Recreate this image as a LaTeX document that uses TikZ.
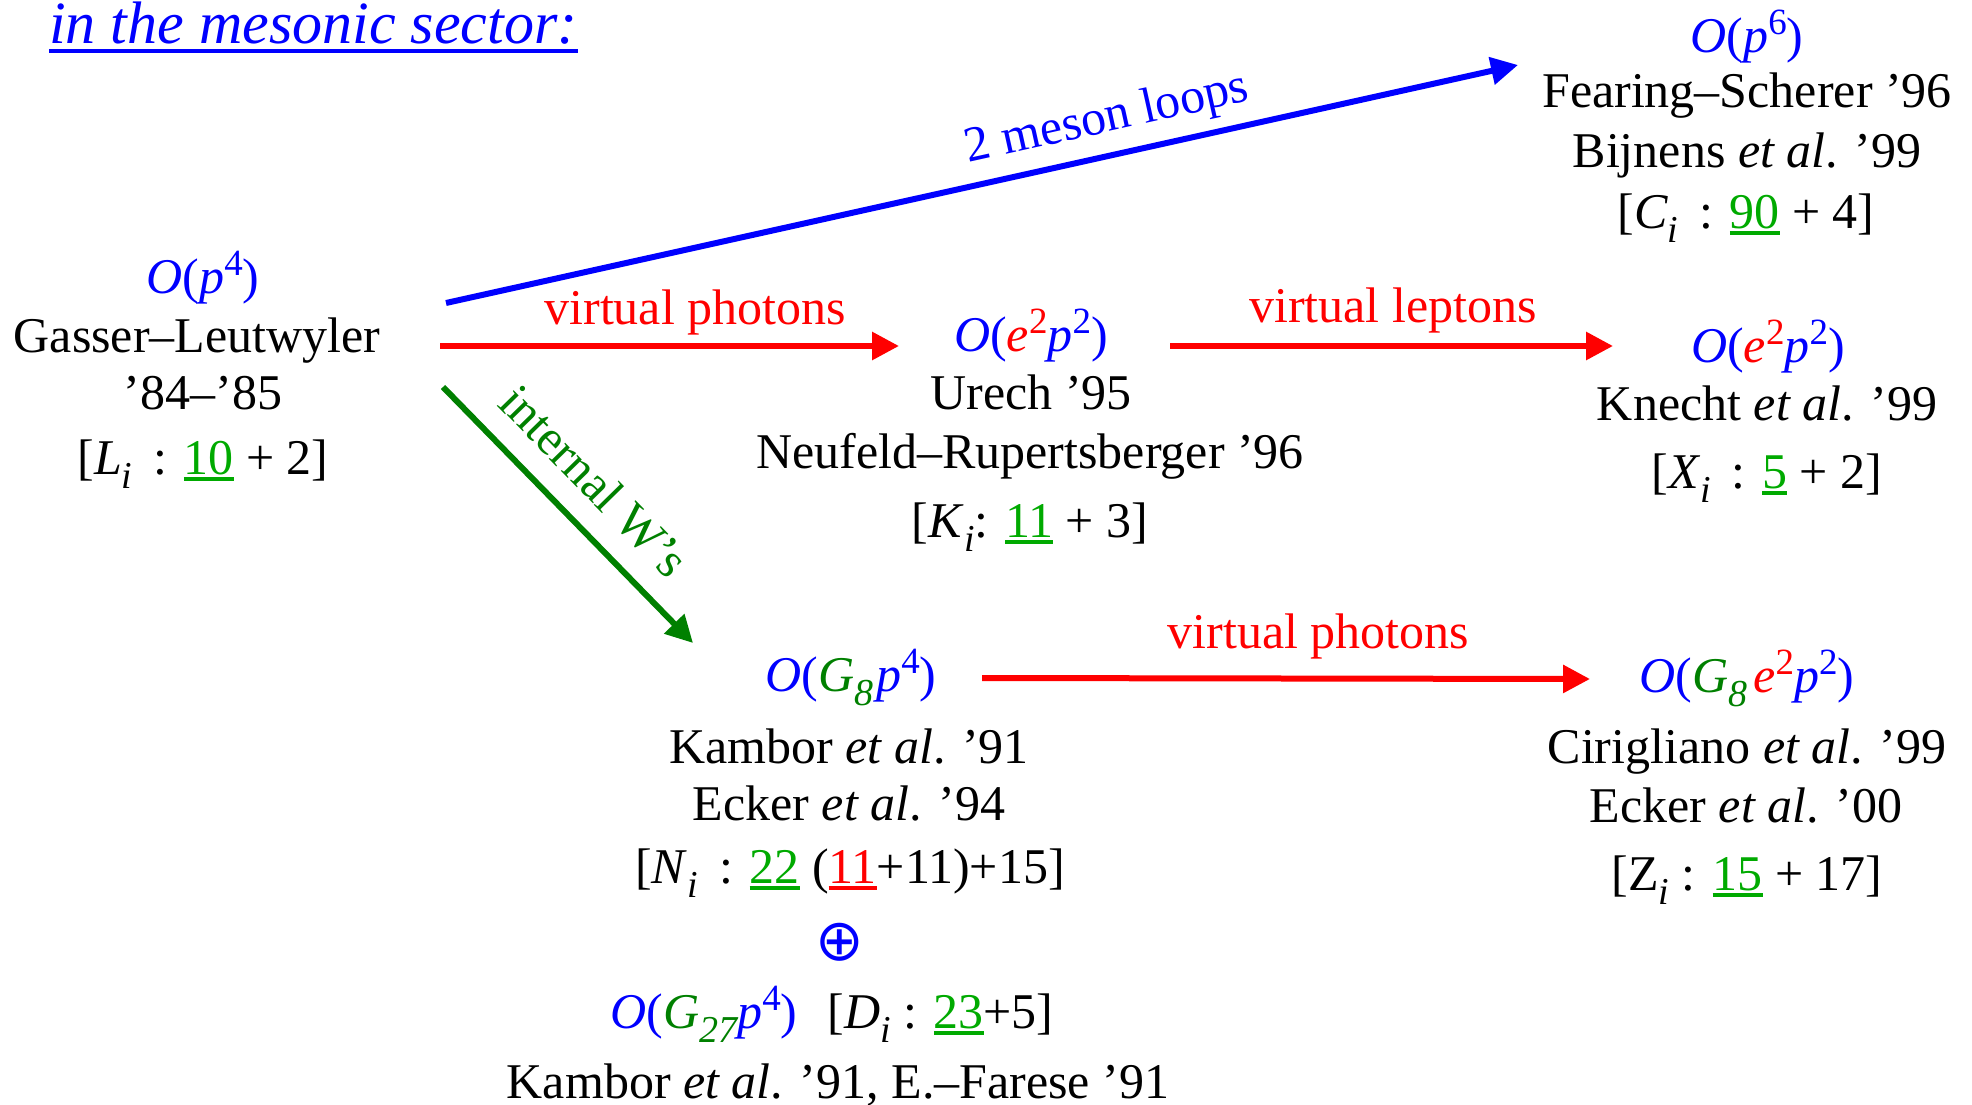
\documentclass[tikz,border=0pt]{standalone}
\usepackage{fontspec}
\setmainfont{Liberation Serif}
\newfontfamily\symfont{DejaVu Sans}
\usetikzlibrary{arrows.meta}
\definecolor{cblue}{RGB}{0,0,255}
\definecolor{cred}{RGB}{255,0,0}
\definecolor{cgreen}{RGB}{0,128,0}
\definecolor{cnum}{RGB}{0,170,0}
\newcommand\mi[1]{\textit{#1}}
\newcommand\sps[1]{\raisebox{18pt}{\fontsize{37}{37}\selectfont #1}}
\newcommand\sbs[1]{\raisebox{-14pt}{\fontsize{38}{38}\selectfont\itshape #1}}
\newcommand\ulnum[2]{{\color{#1}\setbox0\hbox{#2}\rlap{\raisebox{-7pt}{\rule{\wd0}{4pt}}}\box0}}
\begin{document}
\begin{tikzpicture}[x=1pt,y=-1pt,
  txt/.style={inner sep=0pt, anchor=base, font=\fontsize{50}{58}\selectfont},
  arr/.style={line width=6pt, -{Triangle[length=27pt,width=27pt]}},
  lbl/.style={inner sep=0pt, font=\fontsize{50}{58}\selectfont}]
\useasboundingbox (0,0) rectangle (1972,1105);

% title
\node[txt, anchor=base west, font=\fontsize{60}{70}\selectfont\itshape, text=cblue] (title) at (49,44) {in the mesonic sector:};
\draw[cblue, line width=3.5pt] ([yshift=-7pt]title.base west) -- ([yshift=-7pt]title.base east);

% block A
\node[txt, text=cblue] (a0) at (203,293) {\mi{O}(\mi{p}\sps{4})};
\node[txt] (a1) at (197,352) {Gasser–Leutwyler};
\node[txt] (a2) at (203,409) {’84–’85};
\node[txt] (a3) at (203,474) {[\mi{L}\sbs{i}\, : \ulnum{cnum}{10} + 2]};

% block B
\node[txt, text=cblue] (b0) at (1747,53) {\mi{O}(\mi{p}\sps{6})};
\node[txt] (b1) at (1747,108) {Fearing–Scherer ’96};
\node[txt] (b2) at (1747,167) {Bijnens \mi{et al}. ’99};
\node[txt] (b3) at (1746,228) {[\mi{C}\sbs{i}\, : \ulnum{cnum}{90} + 4]};

% block C
\node[txt, text=cblue] (c0) at (1031,351) {\mi{O}(\textcolor{cred}{\mi{e}\sps{2}}\mi{p}\sps{2})};
\node[txt] (c1) at (1031,409) {Urech ’95};
\node[txt] (c2) at (1030,468) {Neufeld–Rupertsberger ’96};
\node[txt] (c3) at (1030,537) {[\mi{K}\sbs{i}: \ulnum{cnum}{11} + 3]};

% block D
\node[txt, text=cblue] (d0) at (1768,362) {\mi{O}(\textcolor{cred}{\mi{e}\sps{2}}\mi{p}\sps{2})};
\node[txt] (d1) at (1767,420) {Knecht \mi{et al}. ’99};
\node[txt] (d2) at (1767,488) {[\mi{X}\sbs{i}\, : \ulnum{cnum}{5} + 2]};

% block E
\node[txt, text=cblue] (e0) at (851,691) {\mi{O}(\textcolor{cgreen}{\mi{G}\sbs{8}}\hspace{3pt}\mi{p}\sps{4})};
\node[txt] (e1) at (849,763) {Kambor \mi{et al}. ’91};
\node[txt] (e2) at (849,820) {Ecker \mi{et al}. ’94};
\node[txt] (e3) at (850,883) {[\mi{N}\sbs{i}\, : \ulnum{cnum}{22} (\ulnum{cred}{11}+11)+15]};
\node[inner sep=0pt, text=cblue, font=\symfont\fontsize{58}{58}\selectfont] (e4) at (840,942) {⊕};
\node[txt] (e5) at (832,1028) {\textcolor{cblue}{\mi{O}(\textcolor{cgreen}{\mi{G}\sbs{27}}\mi{p}\sps{4})}\hspace{30pt}[\mi{D}\sbs{i} : \ulnum{cnum}{23}+5]};
\node[txt] (e6) at (838,1098) {Kambor \mi{et al}. ’91, E.–Farese ’91};

% block F
\node[txt, text=cblue] (f0) at (1747,692) {\mi{O}(\textcolor{cgreen}{\mi{G}\sbs{8}}\hspace{6pt}\textcolor{cred}{\mi{e}\sps{2}}\mi{p}\sps{2})};
\node[txt] (f1) at (1747,763) {Cirigliano \mi{et al}. ’99};
\node[txt] (f2) at (1746,822) {Ecker \mi{et al}. ’00};
\node[txt] (f3) at (1747,890) {[Z\sbs{i} : \ulnum{cnum}{15} + 17]};

% arrows
\draw[arr, cblue] ([xshift=249pt,yshift=49pt]a1.base) -- node[lbl, sloped, pos=0.624, above=10pt, text=cblue] (l0) {2 meson loops} ([xshift=-229pt,yshift=-12pt]b0.base);
\draw[arr, cred] ([xshift=243pt,yshift=6pt]a1.base) -- node[lbl, pos=0.556, above=8pt, text=cred] (l1) {virtual photons} ([xshift=-132pt,yshift=5pt]c0.base);
\draw[arr, cgreen] ([xshift=246pt,yshift=-35pt]a1.base) -- node[lbl, sloped, pos=0.484, above=22pt, text=cgreen] (l2) {internal W’s} ([xshift=-158pt,yshift=48pt]e0.base);
\draw[arr, cred] ([xshift=139pt,yshift=5pt]c0.base) -- node[lbl, pos=0.503, above=10pt, text=cred] (l3) {virtual leptons} ([xshift=-155pt,yshift=16pt]d0.base);
\draw[arr, cred] ([xshift=131pt,yshift=13pt]e0.base) -- node[lbl, pos=0.553, above=16pt, text=cred] (l4) {virtual photons} ([xshift=-157pt,yshift=13pt]f0.base);
\end{tikzpicture}
\end{document}
